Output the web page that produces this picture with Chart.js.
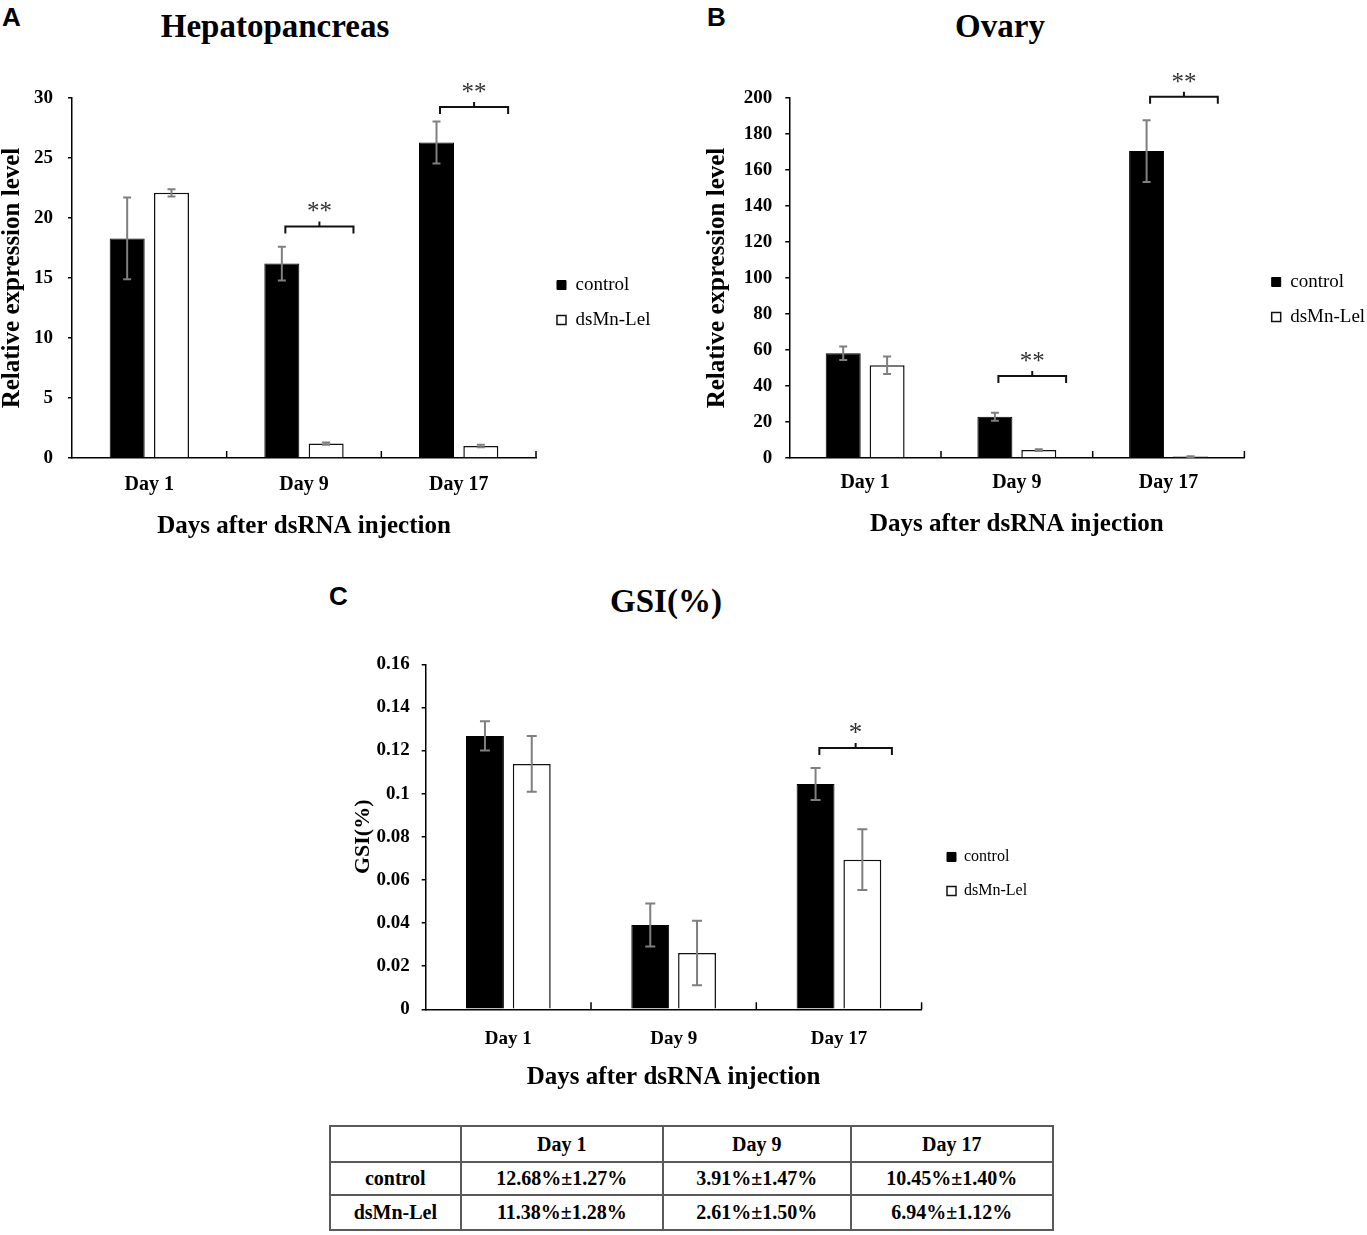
<!DOCTYPE html>
<html>
<head>
<meta charset="utf-8">
<script src="https://cdn.jsdelivr.net/npm/chart.js@4.4.1/dist/chart.umd.min.js"></script>
<style>
  html, body { margin: 0; padding: 0; background: #fff; }
  #page { position: relative; width: 1367px; height: 1235px; background: #fff; overflow: hidden;
          font-family: "Liberation Serif", "Times New Roman", serif; color: #000; }
  .abs { position: absolute; }
  .panel { font-family: "Liberation Sans", Arial, sans-serif; font-weight: bold; font-size: 26px; line-height: 26px; }
  .title { font-weight: bold; font-size: 33px; line-height: 33px; white-space: nowrap; transform: translateX(-50%); }
  canvas { position: absolute; }
  table.gsi { position: absolute; left: 329px; top: 1125px; width: 725px; table-layout: fixed; border-collapse: collapse;
              font-family: "Liberation Serif", "Times New Roman", serif; font-weight: bold; font-size: 20px; }
  table.gsi td { border: 2px solid #5a5a5a; text-align: center; padding: 0; white-space: nowrap; }
</style>
</head>
<body>
<div id="page">
  <div class="abs panel" style="left:2px; top:4px;">A</div>
  <div class="abs panel" style="left:707px; top:4px;">B</div>
  <div class="abs panel" style="left:329px; top:583px;">C</div>

  <div class="abs title" style="left:275px; top:10px;">Hepatopancreas</div>
  <div class="abs title" style="left:1000px; top:10px;">Ovary</div>
  <div class="abs title" style="left:666px; top:585px;">GSI(%)</div>

  <canvas id="chartA" width="680" height="550" style="left:0px; top:0px;"></canvas>
  <canvas id="chartB" width="667" height="550" style="left:700px; top:0px;"></canvas>
  <canvas id="chartC" width="720" height="480" style="left:340px; top:620px;"></canvas>

  <table class="gsi" id="gsiTable"></table>
</div>

<script>
// ---------------- DATA ----------------
const dayLabels = ['Day 1', 'Day 9', 'Day 17'];
const seriesNames = ['control', 'dsMn-Lel'];
const xAxisTitle = 'Days after dsRNA injection';
const exprAxisTitle = 'Relative expression level';
const gsiAxisTitle = 'GSI(%)';

// A: Hepatopancreas
const hepaControl    = [18.3, 16.2, 26.3];
const hepaControlErr = [3.4, 1.4, 1.75];
const hepaDsMn       = [22.1, 1.2, 1.0];
const hepaDsMnErr    = [0.3, 0.1, 0.1];
const hepaSigText    = ['', '**', '**'];
const hepaSigAt      = [null, 19.3, 29.25];

// B: Ovary
const ovaryControl    = [58.2, 22.9, 170.5];
const ovaryControlErr = [3.7, 2.2, 17.2];
const ovaryDsMn       = [51.5, 4.4, 0.8];
const ovaryDsMnErr    = [4.9, 0.5, 0.2];
const ovarySigText    = ['', '**', '**'];
const ovarySigAt      = [null, 45.6, 200.7];

// C: GSI
const gsiControl    = [0.1268, 0.0391, 0.1045];
const gsiControlErr = [0.0068, 0.0100, 0.0074];
const gsiDsMn       = [0.1138, 0.0261, 0.0694];
const gsiDsMnErr    = [0.0129, 0.0150, 0.0141];
const gsiSigText    = ['', '', '*'];
const gsiSigAt      = [null, null, 0.1212];
const gsiTickLabels = ['0', '0.02', '0.04', '0.06', '0.08', '0.1', '0.12', '0.14', '0.16'];

// Table
const tableHeader     = ['', 'Day 1', 'Day 9', 'Day 17'];
const tableControlRow = ['control', '12.68%\u00b11.27%', '3.91%\u00b11.47%', '10.45%\u00b11.40%'];
const tableDsMnRow    = ['dsMn-Lel', '11.38%\u00b11.28%', '2.61%\u00b11.50%', '6.94%\u00b11.12%'];

// ---------------- PLUGINS ----------------
const SERIF = '"Liberation Serif", "Times New Roman", serif';

const errorBarPlugin = {
  id: 'errorBars',
  afterDatasetsDraw(chart, args, opts) {
    const ctx = chart.ctx, ys = chart.scales.y;
    chart.data.datasets.forEach((ds, di) => {
      const meta = chart.getDatasetMeta(di);
      (ds.errors || []).forEach((e, i) => {
        const bar = meta.data[i];
        if (!bar || e == null) return;
        const v = ds.data[i];
        const yt = ys.getPixelForValue(v + e);
        const yb = ys.getPixelForValue(Math.max(0, v - e));
        const c = opts.cap || 4;
        ctx.save();
        ctx.strokeStyle = '#7f7f7f';
        ctx.lineWidth = 2;
        ctx.beginPath();
        ctx.moveTo(bar.x, yt); ctx.lineTo(bar.x, yb);
        ctx.moveTo(bar.x - c, yt); ctx.lineTo(bar.x + c, yt);
        ctx.moveTo(bar.x - c, yb); ctx.lineTo(bar.x + c, yb);
        ctx.stroke();
        ctx.restore();
      });
    });
  }
};

const sigPlugin = {
  id: 'sigMarks',
  afterDatasetsDraw(chart, args, opts) {
    const ctx = chart.ctx, ys = chart.scales.y;
    const m0 = chart.getDatasetMeta(0), m1 = chart.getDatasetMeta(1);
    (opts.marks || []).forEach((mk, i) => {
      if (!mk) return;
      const b0 = m0.data[i], b1 = m1.data[i];
      const x1 = b0.x + b0.width * 0.1;
      const x2 = b1.x + b1.width * 0.5 + b1.width * 0.28;
      const yy = ys.getPixelForValue(opts.levels[i]);
      const xm = (x1 + x2) / 2;
      ctx.save();
      ctx.strokeStyle = '#111';
      ctx.lineWidth = 2;
      ctx.beginPath();
      ctx.moveTo(x1, yy + 7); ctx.lineTo(x1, yy); ctx.lineTo(x2, yy); ctx.lineTo(x2, yy + 7);
      ctx.moveTo(xm, yy); ctx.lineTo(xm, yy - 5);
      ctx.stroke();
      ctx.fillStyle = '#333';
      ctx.font = opts.font;
      ctx.textAlign = 'center';
      ctx.textBaseline = 'alphabetic';
      ctx.fillText(mk, xm, yy - 7);
      ctx.restore();
    });
  }
};

const boundaryTickPlugin = {
  id: 'boundaryTicks',
  afterDraw(chart) {
    const ctx = chart.ctx, xs = chart.scales.x;
    const n = chart.data.labels.length;
    const w = (xs.right - xs.left) / n;
    const yb = chart.chartArea.bottom;
    ctx.save();
    ctx.strokeStyle = '#000';
    ctx.lineWidth = 1.5;
    ctx.beginPath();
    for (let i = 1; i <= n; i++) {
      const px = xs.left + w * i;
      ctx.moveTo(px, yb); ctx.lineTo(px, yb - 7);
    }
    ctx.stroke();
    ctx.restore();
  }
};

const legendShiftPlugin = {
  id: 'legendShift',
  afterLayout(chart, args, opts) {
    const lg = chart.legend;
    if (!lg) return;
    lg.left += opts.dx;
    lg.right += opts.dx + 300;   // widen the clip region so labels are not cut
    lg.top += opts.dy; lg.bottom += opts.dy;
  }
};

function buildChart(id, o) {
  return new Chart(document.getElementById(id), {
    type: 'bar',
    data: {
      labels: dayLabels,
      datasets: [
        { label: seriesNames[0], data: o.control, errors: o.controlErr,
          backgroundColor: '#000', borderColor: '#000', borderWidth: 1 },
        { label: seriesNames[1], data: o.dsmn, errors: o.dsmnErr,
          backgroundColor: '#fff', borderColor: '#111', borderWidth: 1.5 }
      ]
    },
    options: {
      responsive: false,
      animation: false,
      devicePixelRatio: 1,
      datasets: { bar: { categoryPercentage: o.catPct, barPercentage: o.barPct } },
      layout: { padding: { top: o.padTop, right: o.padRight, left: 0, bottom: 0 } },
      scales: {
        x: {
          grid: { display: false },
          border: { display: true, color: '#000', width: 1.5 },
          ticks: { color: '#000', padding: o.xTickPad, font: { family: SERIF, weight: 'bold', size: o.xTickSize } },
          title: { display: true, text: xAxisTitle, color: '#000',
                   font: { family: SERIF, weight: 'bold', size: 25, lineHeight: 1 },
                   padding: { top: 0, bottom: o.xTitlePad } },
          afterFit(s) { s.height = o.xHeight; }
        },
        y: {
          min: 0, max: o.max,
          ticks: { stepSize: o.step, color: '#000', padding: o.yTickPad,
                   font: { family: SERIF, weight: 'bold', size: o.yTickSize },
                   callback: o.tickCb },
          grid: { display: true, drawOnChartArea: false, drawTicks: true, tickLength: 4, color: '#000', lineWidth: 1.5 },
          border: { display: true, color: '#000', width: 1.5 },
          title: { display: true, text: o.yTitle, color: '#000',
                   font: { family: SERIF, weight: 'bold', size: o.yTitleSize, lineHeight: 1 },
                   padding: { top: o.yTitlePad, bottom: 0 } },
          afterFit(s) { s.width = o.yWidth; }
        }
      },
      plugins: {
        legend: {
          position: 'right',
          maxWidth: 60,
          labels: { boxWidth: 9, boxHeight: 9, padding: o.legendPad, color: '#000',
                    font: { family: SERIF, size: o.legendSize } }
        },
        tooltip: { enabled: false },
        errorBars: { cap: o.cap },
        sigMarks: { marks: o.sigText, levels: o.sigAt, font: o.sigFont },
        legendShift: { dx: o.legendDx, dy: o.legendDy }
      }
    },
    plugins: [legendShiftPlugin, errorBarPlugin, sigPlugin, boundaryTickPlugin]
  });
}

// A
buildChart('chartA', {
  control: hepaControl, controlErr: hepaControlErr, dsmn: hepaDsMn, dsmnErr: hepaDsMnErr,
  sigText: hepaSigText, sigAt: hepaSigAt, sigFont: '25px ' + SERIF,
  max: 30, step: 5, tickCb: undefined,
  catPct: 0.573, barPct: 0.79,
  padTop: 98, padRight: 84, xHeight: 92, yWidth: 72,
  xTickSize: 20, xTickPad: 7, xTitlePad: 11,
  yTickSize: 19, yTickPad: 15, yTitle: exprAxisTitle, yTitleSize: 25, yTitlePad: 0,
  legendPad: 16, legendSize: 19, legendDx: 5, legendDy: -21.5, cap: 4
});

// B
buildChart('chartB', {
  control: ovaryControl, controlErr: ovaryControlErr, dsmn: ovaryDsMn, dsmnErr: ovaryDsMnErr,
  sigText: ovarySigText, sigAt: ovarySigAt, sigFont: '25px ' + SERIF,
  max: 200, step: 20, tickCb: undefined,
  catPct: 0.579, barPct: 0.797,
  padTop: 98, padRight: 62.6, xHeight: 92, yWidth: 89.3,
  xTickSize: 20, xTickPad: 5, xTitlePad: 13,
  yTickSize: 19, yTickPad: 13, yTitle: exprAxisTitle, yTitleSize: 25, yTitlePad: 5,
  legendPad: 16, legendSize: 19, legendDx: 11.3, legendDy: -24.5, cap: 4
});

// C
buildChart('chartC', {
  control: gsiControl, controlErr: gsiControlErr, dsmn: gsiDsMn, dsmnErr: gsiDsMnErr,
  sigText: gsiSigText, sigAt: gsiSigAt, sigFont: '27px ' + SERIF,
  max: 0.16, step: 0.02, tickCb: (v, i) => gsiTickLabels[i],
  catPct: 0.566, barPct: 0.81,
  padTop: 44.3, padRight: 78.4, xHeight: 90.7, yWidth: 85.7,
  xTickSize: 19, xTickPad: 10.6, xTitlePad: 10,
  yTickSize: 19, yTickPad: 12, yTitle: gsiAxisTitle, yTitleSize: 22, yTitlePad: 12,
  legendPad: 18, legendSize: 16, legendDx: 7.4, legendDy: -8.2, cap: 5
});

// Table
(function buildTable() {
  const colWidths = [131, 203, 188, 203];
  const rowHeights = [36, 33, 35];
  const rows = [tableHeader, tableControlRow, tableDsMnRow];
  const tbl = document.getElementById('gsiTable');
  const total = colWidths.reduce((a, b) => a + b, 0);
  const cg = document.createElement('colgroup');
  colWidths.forEach(w => {
    const col = document.createElement('col');
    col.style.width = (100 * w / total) + '%';
    cg.appendChild(col);
  });
  tbl.appendChild(cg);
  rows.forEach((r, ri) => {
    const tr = document.createElement('tr');
    tr.style.height = rowHeights[ri] + 'px';
    r.forEach(txt => {
      const td = document.createElement('td');
      td.textContent = txt;
      tr.appendChild(td);
    });
    tbl.appendChild(tr);
  });
})();
</script>
</body>
</html>
